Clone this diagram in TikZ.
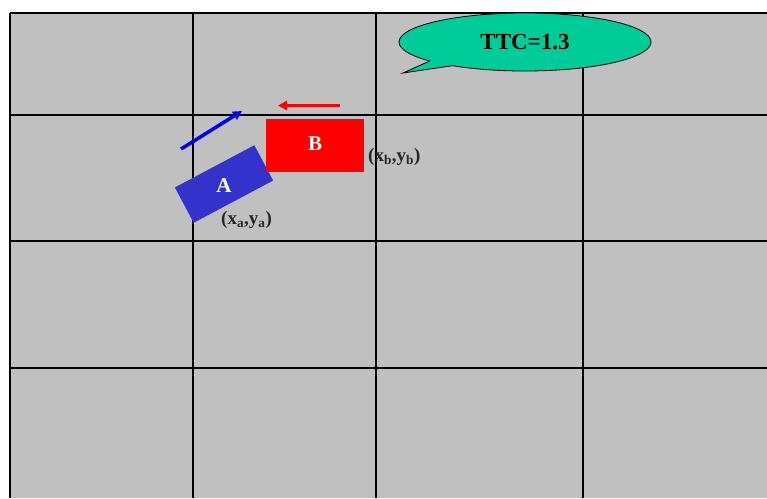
\documentclass[tikz,border=0pt]{standalone}
\usepackage{fontspec}
\setmainfont{Liberation Serif}
\usetikzlibrary{shapes.callouts,arrows.meta}
\definecolor{gridgrey}{RGB}{192,192,192}
\definecolor{carblue}{RGB}{51,51,204}
\definecolor{carred}{RGB}{255,0,0}
\definecolor{calloutgreen}{RGB}{0,204,153}
\definecolor{vecblue}{RGB}{0,0,255}
\tikzset{
  gridline/.style={black, line width=2pt},
  carbox/.style={inner sep=0pt, text=white, font=\fontsize{21}{23}\selectfont\bfseries},
  coordlabel/.style={inner sep=0pt, font=\fontsize{19}{21}\selectfont\bfseries, text=black!85},
  vecarrow/.style={line width=3.5pt, -{Triangle[length=9pt,width=9pt]}},
}
\begin{document}
\begin{tikzpicture}[x=1pt,y=-1pt]
\useasboundingbox (0,0) rectangle (767,498);
\fill[white] (0,0) rectangle (767,498);
\fill[gridgrey] (9.5,13) rectangle (767,498);
% grid
\foreach \gx in {9.5,193,376,583} \draw[gridline] (\gx,13) -- (\gx,498);
\foreach \gy in {13,115,241,368} \draw[gridline] (9.5,\gy) -- (767,\gy);
% car A
\node[carbox, fill=carblue, minimum width=90pt, minimum height=40pt, rotate=28] (carA) at (224,184) {};
\node[carbox] (labA) at (224,186) {A};
% car B
\node[carbox, fill=carred, minimum width=98pt, minimum height=53pt] (carB) at (315,145.5) {};
\node[carbox] (labB) at (315,144) {B};
% velocity arrows
\coordinate (vaS) at (181,149);
\coordinate (vaE) at (242,111);
\draw[vecarrow, vecblue] (vaS) -- (vaE);
\coordinate (vbS) at (340,105.5);
\coordinate (vbE) at (278,105.5);
\draw[vecarrow, carred] (vbS) -- (vbE);
% coordinate labels
\node[coordlabel, anchor=west] (xyb) at (368,157) {(x\textsubscript{b},y\textsubscript{b})};
\node[coordlabel, anchor=west] (xya) at (221,220) {(x\textsubscript{a},y\textsubscript{a})};
% callout
\node[ellipse callout, draw=black, line width=0.8pt, fill=calloutgreen,
      minimum width=252pt, minimum height=58pt, inner sep=0pt,
      callout absolute pointer={(403,73)}, callout pointer arc=14,
      font=\fontsize{23}{25}\selectfont\bfseries] (ttc) at (525,42) {TTC=1.3};
\end{tikzpicture}
\end{document}
